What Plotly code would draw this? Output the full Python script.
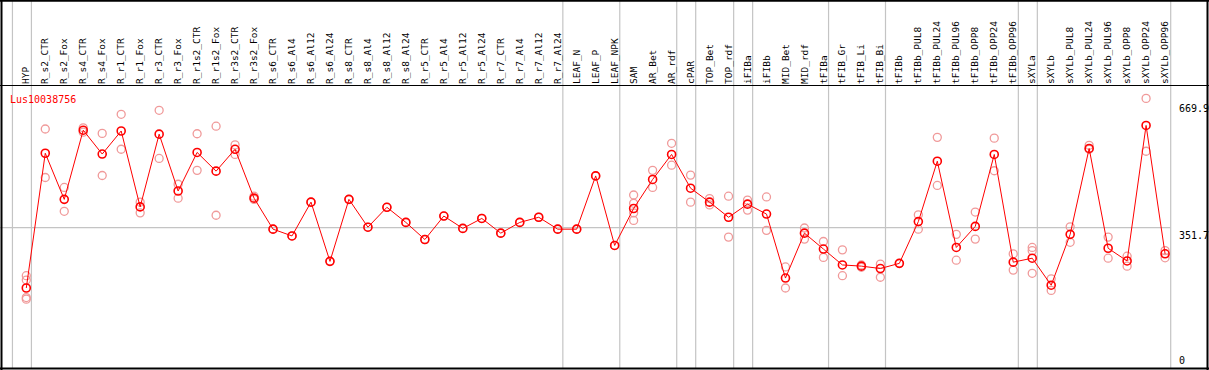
import plotly.graph_objects as go

title = "Lus10038756"

categories = [
    "HYP", "R_s2_CTR", "R_s2_Fox", "R_s4_CTR", "R_s4_Fox", "R_r1_CTR", "R_r1_Fox",
    "R_r3_CTR", "R_r3_Fox", "R_r1s2_CTR", "R_r1s2_Fox", "R_r3s2_CTR", "R_r3s2_Fox",
    "R_s6_CTR", "R_s6_Al4", "R_s6_Al12", "R_s6_Al24", "R_s8_CTR", "R_s8_Al4",
    "R_s8_Al12", "R_s8_Al24", "R_r5_CTR", "R_r5_Al4", "R_r5_Al12", "R_r5_Al24",
    "R_r7_CTR", "R_r7_Al4", "R_r7_Al12", "R_r7_Al24", "LEAF_N", "LEAF_P", "LEAF_NPK",
    "SAM", "AR_Bet", "AR_rdf", "cPAR", "TOP_Bet", "TOP_rdf", "iFIBa", "iFIBb",
    "MID_Bet", "MID_rdf", "tFIBa", "tFIB_Gr", "tFIB_Li", "tFIB_Bi", "tFIBb",
    "tFIBb_PUL8", "tFIBb_PUL24", "tFIBb_PUL96", "tFIBb_OPP8", "tFIBb_OPP24",
    "tFIBb_OPP96", "sXYLa", "sXYLb", "sXYLb_PUL8", "sXYLb_PUL24", "sXYLb_PUL96",
    "sXYLb_OPP8", "sXYLb_OPP24", "sXYLb_OPP96",
]

means = [
    200, 539, 423, 597, 537, 595, 404, 587, 444, 541, 494, 549, 426,
    348, 331, 416, 267, 423, 353, 403, 365, 322, 381, 350, 375,
    338, 365, 378, 348, 348, 482, 307,
    400, 473, 536, 451, 416, 378, 411, 386,
    225, 338, 298, 258, 255, 249, 262,
    367, 519, 302, 355, 536, 265,
    275, 207, 335, 551, 300, 268, 609, 286,
]

replicates = [
    [231, 220, 176, 172], [600, 478], [453, 393], [603, 592], [589, 483],
    [637, 549], [416, 389], [647, 526], [461, 426], [588, 496], [607, 383],
    [560, 536], [431, 423],
    [348], [331], [416], [267], [423], [353], [403], [365], [322], [381], [350], [375],
    [338], [365], [378], [348], [348], [482], [307],
    [434, 413, 389, 370], [496, 453], [564, 509], [484, 416], [425, 409],
    [431, 328], [421, 396], [429, 345],
    [253, 200], [351, 323], [317, 277], [296, 231], [258, 252], [260, 227], [262],
    [384, 348], [579, 458], [335, 270], [391, 323], [577, 495], [286, 245],
    [302, 294, 237], [223, 194], [354, 315], [559, 549], [328, 275],
    [280, 255], [677, 544], [294, 276],
]

# group separators: a vertical rule follows each of these category indices
separators_after = [-1, 0, 28, 31, 34, 35, 37, 38, 42, 45, 52, 53]

axis_labels = [669.9, 351.7, 0]
grid_value = 351.7

W, H = 1209, 370
ML, MR, MT, MB = 2, 39, 85, 2
PW, PH = W - ML - MR, H - MT - MB
X0, X1 = -1.28, 60.26
Y0, Y1 = -1.26, 710.7


def px_x(p):
    return (p - ML) / PW


def px_y(p):
    return (H - MB - p) / PH


rep_x, rep_y = [], []
for i, reps in enumerate(replicates):
    for v in reps:
        rep_x.append(i)
        rep_y.append(v)

fig = go.Figure()
fig.add_trace(go.Scatter(
    x=rep_x, y=rep_y, mode="markers",
    marker=dict(symbol="circle-open", size=8, color="#f09a9a", line=dict(width=1.3)),
    hoverinfo="skip", showlegend=False, cliponaxis=False,
))
fig.add_trace(go.Scatter(
    x=list(range(len(categories))), y=means, mode="lines+markers",
    line=dict(color="#ff0000", width=1),
    marker=dict(symbol="circle-open", size=8, color="#ff0000", line=dict(width=1.6)),
    showlegend=False, cliponaxis=False,
))

shapes = []
grey = "#c4c4c4"
for s in separators_after:
    shapes.append(dict(type="line", xref="x", yref="paper", x0=s + 0.27, x1=s + 0.27,
                       y0=px_y(368), y1=px_y(0), line=dict(color=grey, width=1.2), layer="below"))
# right edge of plot region
shapes.append(dict(type="line", xref="paper", yref="paper", x0=px_x(1170.7), x1=px_x(1170.7),
                   y0=px_y(368), y1=px_y(0), line=dict(color=grey, width=1.2), layer="below"))
# grid line
shapes.append(dict(type="line", xref="paper", yref="y", x0=px_x(0), x1=px_x(1170.7),
                   y0=grid_value, y1=grid_value, line=dict(color=grey, width=1.2), layer="below"))
# frame
black = "#000000"
shapes += [
    dict(type="line", xref="paper", yref="paper", x0=px_x(0), x1=px_x(1209), y0=px_y(0.8), y1=px_y(0.8), line=dict(color=black, width=2)),
    dict(type="line", xref="paper", yref="paper", x0=px_x(0), x1=px_x(1209), y0=px_y(85.5), y1=px_y(85.5), line=dict(color=black, width=1.2)),
    dict(type="line", xref="paper", yref="paper", x0=px_x(0), x1=px_x(1209), y0=px_y(368.5), y1=px_y(368.5), line=dict(color=black, width=2)),
    dict(type="line", xref="paper", yref="paper", x0=px_x(1.5), x1=px_x(1.5), y0=px_y(0), y1=px_y(370), line=dict(color=black, width=2)),
    dict(type="line", xref="paper", yref="paper", x0=px_x(1207.5), x1=px_x(1207.5), y0=px_y(0), y1=px_y(370), line=dict(color=black, width=2)),
]

mono = "DejaVu Sans Mono"
annotations = [dict(text=title, xref="paper", yref="paper", x=px_x(7.5), y=px_y(91.5),
                    xanchor="left", yanchor="top", showarrow=False,
                    font=dict(family=mono, size=10, color="#ff0000"))]
for v in axis_labels:
    annotations.append(dict(text=f"{v:g}" if v else "0", xref="paper", yref="y",
                            x=px_x(1176.5), y=v, xanchor="left",
                            yanchor="bottom" if v == 0 else "top",
                            showarrow=False, font=dict(family=mono, size=10, color="#000000")))

fig.update_layout(
    width=W, height=H,
    margin=dict(l=ML, r=MR, t=MT, b=MB, pad=0),
    paper_bgcolor="white", plot_bgcolor="white",
    shapes=shapes, annotations=annotations,
    xaxis=dict(range=[X0, X1], side="top", tickmode="array",
               tickvals=list(range(len(categories))), ticktext=categories,
               tickangle=-90, ticks="", showgrid=False, zeroline=False, showline=False,
               tickfont=dict(family=mono, size=9.5, color="#000000")),
    yaxis=dict(range=[Y0, Y1], showticklabels=False, showgrid=False, zeroline=False,
               showline=False, ticks=""),
    font=dict(family=mono),
)

fig.write_html("out.html", config={"displayModeBar": False},
               post_script="document.body.style.margin='0';document.body.style.overflow='hidden';")
